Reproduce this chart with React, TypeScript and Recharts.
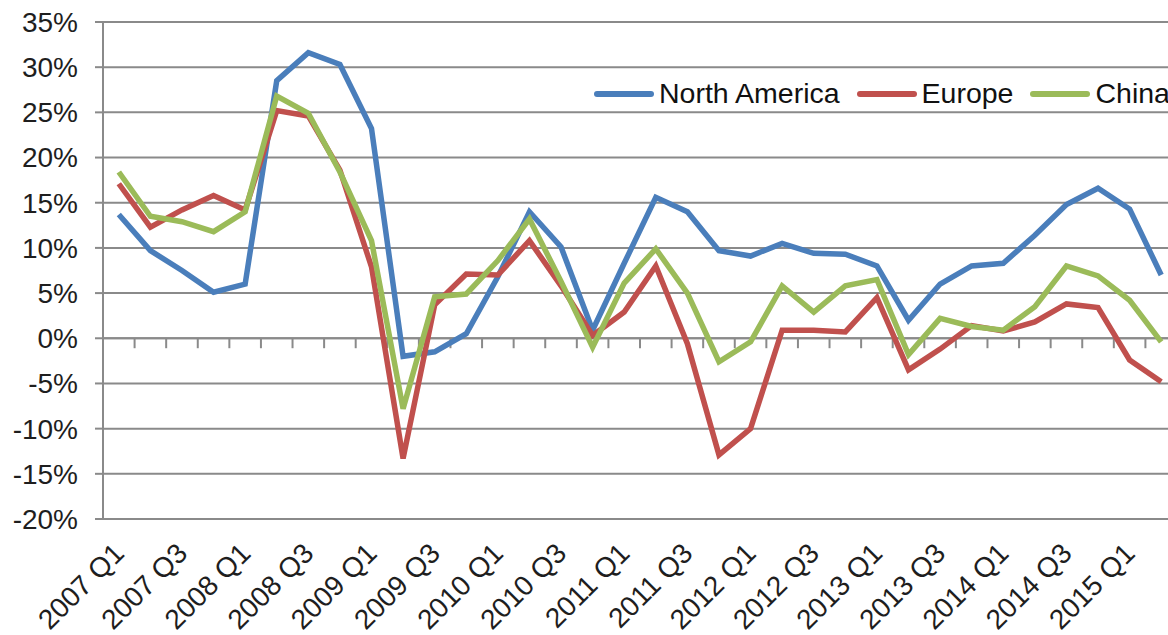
import { LineChart, Line, XAxis, YAxis, CartesianGrid, ReferenceLine, Legend } from 'recharts'

const quarters = [
  '2007 Q1', '2007 Q2', '2007 Q3', '2007 Q4',
  '2008 Q1', '2008 Q2', '2008 Q3', '2008 Q4',
  '2009 Q1', '2009 Q2', '2009 Q3', '2009 Q4',
  '2010 Q1', '2010 Q2', '2010 Q3', '2010 Q4',
  '2011 Q1', '2011 Q2', '2011 Q3', '2011 Q4',
  '2012 Q1', '2012 Q2', '2012 Q3', '2012 Q4',
  '2013 Q1', '2013 Q2', '2013 Q3', '2013 Q4',
  '2014 Q1', '2014 Q2', '2014 Q3', '2014 Q4',
  '2015 Q1', '2015 Q2',
]

const northAmerica = [
  13.7, 9.7, 7.5, 5.1, 6.0, 28.5, 31.6, 30.3, 23.2, -2.0, -1.5, 0.5,
  6.8, 14.0, 10.1, 0.9, 8.3, 15.6, 14.0, 9.7, 9.1, 10.5, 9.4, 9.3,
  8.0, 2.0, 6.0, 8.0, 8.3, 11.4, 14.8, 16.6, 14.3, 7.0,
]

const europe = [
  17.1, 12.3, 14.2, 15.8, 14.2, 25.2, 24.6, 18.6, 7.9, -13.3, 3.7, 7.1,
  7.0, 10.8, 5.8, 0.3, 2.9, 8.0, -0.6, -12.9, -10.0, 0.9, 0.9, 0.7,
  4.5, -3.5, -1.2, 1.4, 0.8, 1.8, 3.8, 3.4, -2.4, -4.8,
]

const china = [
  18.4, 13.5, 12.9, 11.8, 14.0, 26.8, 24.9, 18.4, 10.8, -7.8, 4.6, 4.9,
  8.6, 13.2, 6.3, -1.0, 6.1, 9.9, 5.0, -2.6, -0.4, 5.8, 2.9, 5.8,
  6.5, -1.8, 2.2, 1.3, 0.9, 3.5, 8.0, 6.9, 4.2, -0.4,
]

const yTicks = [-20, -15, -10, -5, 0, 5, 10, 15, 20, 25, 30, 35]

const series = [
  { key: 'na', name: 'North America', color: '#4a7ebb' },
  { key: 'eu', name: 'Europe', color: '#c0504d' },
  { key: 'cn', name: 'China', color: '#9bbb59' },
]

const data = quarters.map((q, i) => ({
  q,
  na: northAmerica[i],
  eu: europe[i],
  cn: china[i],
}))

const font = '"Liberation Sans", Arial, sans-serif'
const gridColor = '#8a8a8a'

function XTick({ x, y, payload }: any) {
  const ax = x + 7
  const ay = y + 28
  return (
    <text
      x={ax}
      y={ay}
      transform={`rotate(-45 ${ax} ${ay})`}
      textAnchor="end"
      fontSize={28}
      fontFamily={font}
      fill="#1e1e1e"
    >
      {payload.value}
    </text>
  )
}

function LegendContent() {
  return (
    <div style={{ display: 'flex', alignItems: 'center', whiteSpace: 'nowrap', fontFamily: font, fontSize: 28.5, color: '#111' }}>
      {series.map((s) => (
        <div key={s.key} style={{ display: 'flex', alignItems: 'center', marginRight: 17 }}>
          <span style={{ display: 'inline-block', width: 60, height: 6, borderRadius: 3, background: s.color, marginRight: 5 }} />
          <span>{s.name}</span>
        </div>
      ))}
    </div>
  )
}

export default function App() {
  return (
    <div style={{ position: 'absolute', left: 0, top: 0, width: 1168, height: 635, overflow: 'hidden', background: '#fff' }}>
      <LineChart width={1180} height={635} data={data} margin={{ top: 22, right: 3, left: 0, bottom: 0 }}>
        <CartesianGrid vertical={false} stroke={gridColor} strokeWidth={2} />
        <XAxis
          dataKey="q"
          scale="band"
          interval={1}
          axisLine={false}
          tickLine={false}
          height={116}
          tick={<XTick />}
        />
        <YAxis
          domain={[-20, 35]}
          ticks={yTicks}
          width={103}
          tickFormatter={(v) => `${v}%`}
          axisLine={{ stroke: gridColor, strokeWidth: 2 }}
          tickLine={{ stroke: gridColor, strokeWidth: 2 }}
          tickSize={8}
          tickMargin={17}
          tick={{ fontSize: 28, fontFamily: font, fill: '#1e1e1e' }}
        />
        <ReferenceLine y={0} stroke={gridColor} strokeWidth={2} />
        {quarters.map((q) => (
          <ReferenceLine
            key={q}
            segment={[{ x: q, y: 0 }, { x: q, y: -1.1 }]}
            position="start"
            stroke={gridColor}
            strokeWidth={2}
          />
        ))}
        <Legend
          verticalAlign="middle"
          align="center"
          layout="horizontal"
          content={<LegendContent />}
          wrapperStyle={{ position: 'absolute', left: 594, top: 77, width: 640 }}
        />
        {series.map((s) => (
          <Line
            key={s.key}
            type="linear"
            dataKey={s.key}
            name={s.name}
            stroke={s.color}
            strokeWidth={5.5}
            dot={false}
            isAnimationActive={false}
          />
        ))}
      </LineChart>
    </div>
  )
}
